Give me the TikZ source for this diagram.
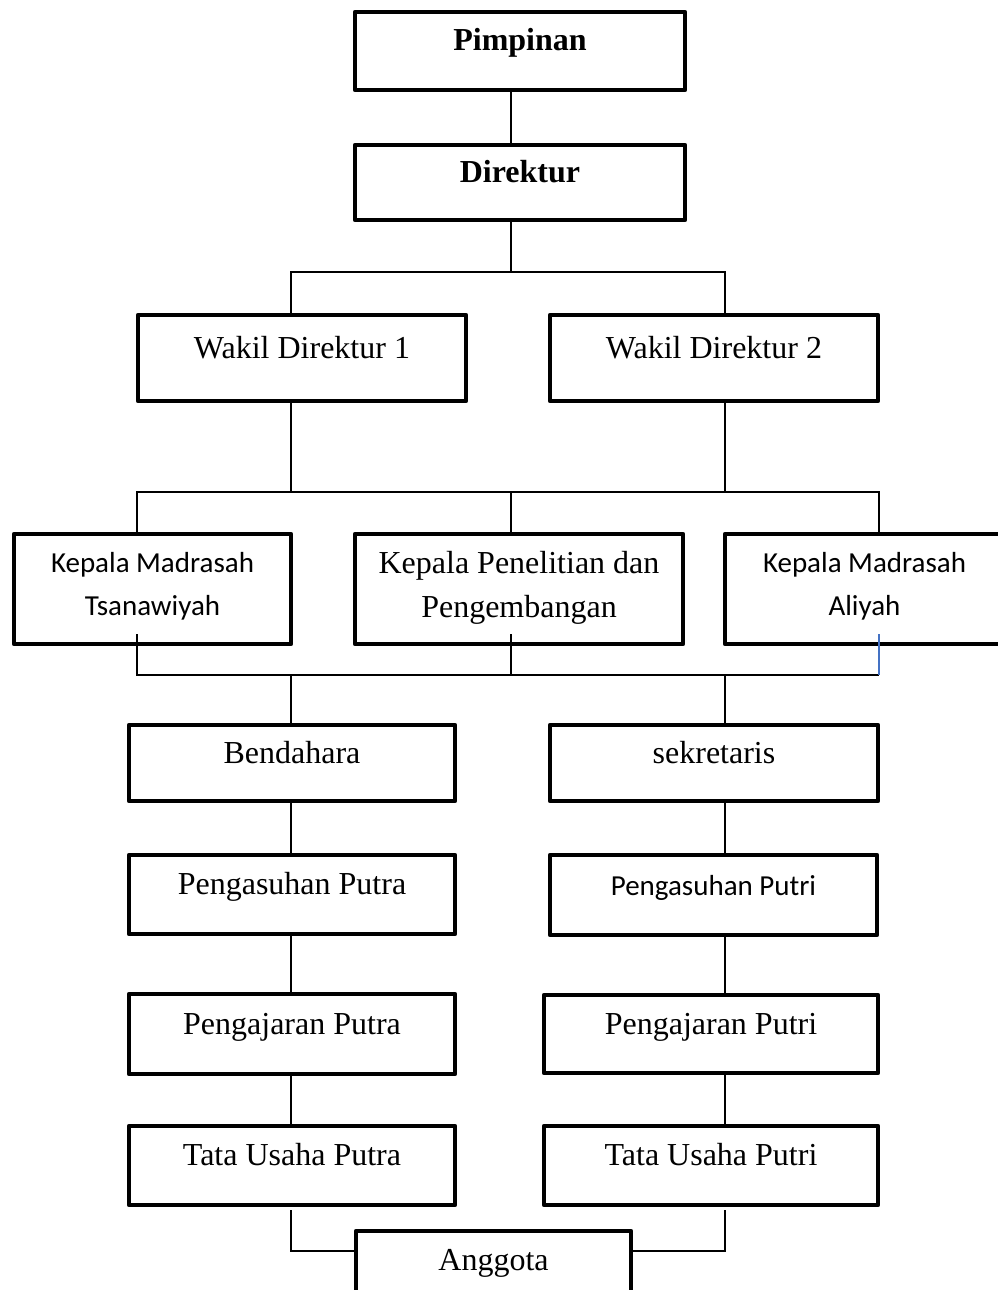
\documentclass[tikz,border=0pt]{standalone}
\usepackage{fontspec}
\setmainfont{Liberation Serif}
\newfontfamily\calfont{Carlito}
\usetikzlibrary{calc}
\definecolor{linkblue}{RGB}{68,114,196}
\tikzset{
  orgbox/.style={draw, line width=4.5pt, line join=round, rectangle, inner sep=0pt, outer sep=0pt,
    text height=0pt, text depth=0pt, font=\fontsize{32}{44}\selectfont},
  sansbox/.style={orgbox, font=\calfont\fontsize{29}{43}\selectfont},
  conn/.style={line width=1.6pt},
  thickconn/.style={line width=2.4pt}
}
\begin{document}
\begin{tikzpicture}[x=1pt,y=-1pt]
\useasboundingbox (0,0) rectangle (998,1290);
% boxes
\node[orgbox, minimum width=330pt, minimum height=78pt] (p) at (520,51) {\textbf{Pimpinan}};
\node[orgbox, minimum width=330pt, minimum height=75pt] (d) at (520,182.5) {\textbf{Direktur}};
\node[orgbox, minimum width=328pt, minimum height=86pt] (w1) at (302,358) {Wakil Direktur 1};
\node[orgbox, minimum width=328pt, minimum height=86pt] (w2) at (714,358) {Wakil Direktur 2};
\node[sansbox, minimum width=277pt, minimum height=110pt] (kt) at (152.5,589)
  {\raisebox{17pt}{\begin{tabular}[t]{@{}c@{}}Kepala Madrasah\\Tsanawiyah\end{tabular}}};
\node[orgbox, minimum width=328pt, minimum height=110pt] (kp) at (519,589)
  {\raisebox{16pt}{\begin{tabular}[t]{@{}c@{}}Kepala Penelitian dan\\Pengembangan\end{tabular}}};
\node[sansbox, minimum width=279pt, minimum height=110pt] (ka) at (864.5,589)
  {\raisebox{17pt}{\begin{tabular}[t]{@{}c@{}}Kepala Madrasah\\Aliyah\end{tabular}}};
\node[orgbox, minimum width=326pt, minimum height=76pt] (b) at (292,763) {Bendahara};
\node[orgbox, minimum width=328pt, minimum height=76pt] (s) at (714,763) {sekretaris};
\node[orgbox, minimum width=326pt, minimum height=79pt] (pasa) at (292,894.5) {Pengasuhan Putra};
\node[sansbox, minimum width=327pt, minimum height=80pt] (pasi) at (713.5,895) {Pengasuhan Putri};
\node[orgbox, minimum width=326pt, minimum height=80pt] (pja) at (292,1034) {Pengajaran Putra};
\node[orgbox, minimum width=334pt, minimum height=78pt] (pji) at (711,1034) {Pengajaran Putri};
\node[orgbox, minimum width=326pt, minimum height=79pt] (tua) at (292,1165.5) {Tata Usaha Putra};
\node[orgbox, minimum width=334pt, minimum height=79pt] (tui) at (711,1165.5) {Tata Usaha Putri};
\node[orgbox, minimum width=275pt, minimum height=78pt] (a) at (493.5,1270) {Anggota};
% junction coordinates
\coordinate (jA) at (511,272);
\coordinate (hL) at (291,272);
\coordinate (hR) at (725,272);
\coordinate (k1) at (137,492);
\coordinate (k2) at (511,492);
\coordinate (k3) at (879,492);
\coordinate (m1) at (137,675);
\coordinate (m2) at (511,675);
\coordinate (m3) at (879,675);
\coordinate (nL) at (291,1251);
\coordinate (nR) at (725,1251);
% connectors
\draw[thickconn] (p.south -| jA) -- (d.north -| jA);
\draw[conn] (d.south -| jA) -- (jA);
\draw[conn] (w1.north -| hL) -- (hL) -- (hR) -- (w2.north -| hR);
\draw[conn] (w1.south -| hL) -- (hL |- k1);
\draw[conn] (w2.south -| hR) -- (hR |- k1);
\draw[conn] (kt.north -| k1) -- (k1) -- (k3) -- (ka.north -| k3);
\draw[conn] (k2) -- (kp.north -| k2);
\draw[conn] ($(kt.south -| m1)+(0,-10)$) -- (m1) -- (m3);
\draw[conn] ($(kp.south -| m2)+(0,-10)$) -- (m2);
\draw[conn, linkblue] ($(ka.south -| m3)+(0,-10)$) -- (m3);
\draw[conn] (m1 -| hL) -- (b.north -| hL);
\draw[conn] (m3 -| hR) -- (s.north -| hR);
\draw[conn] (b.south -| hL) -- (pasa.north -| hL);
\draw[conn] (pasa.south -| hL) -- (pja.north -| hL);
\draw[conn] (pja.south -| hL) -- (tua.north -| hL);
\draw[conn] (s.south -| hR) -- (pasi.north -| hR);
\draw[conn] (pasi.south -| hR) -- (pji.north -| hR);
\draw[conn] (pji.south -| hR) -- (tui.north -| hR);
\draw[conn] ($(tua.south -| nL)+(0,5)$) -- (nL) -- (a.west |- nL);
\draw[conn] ($(tui.south -| nR)+(0,5)$) -- (nR) -- (a.east |- nR);
\end{tikzpicture}
\end{document}
